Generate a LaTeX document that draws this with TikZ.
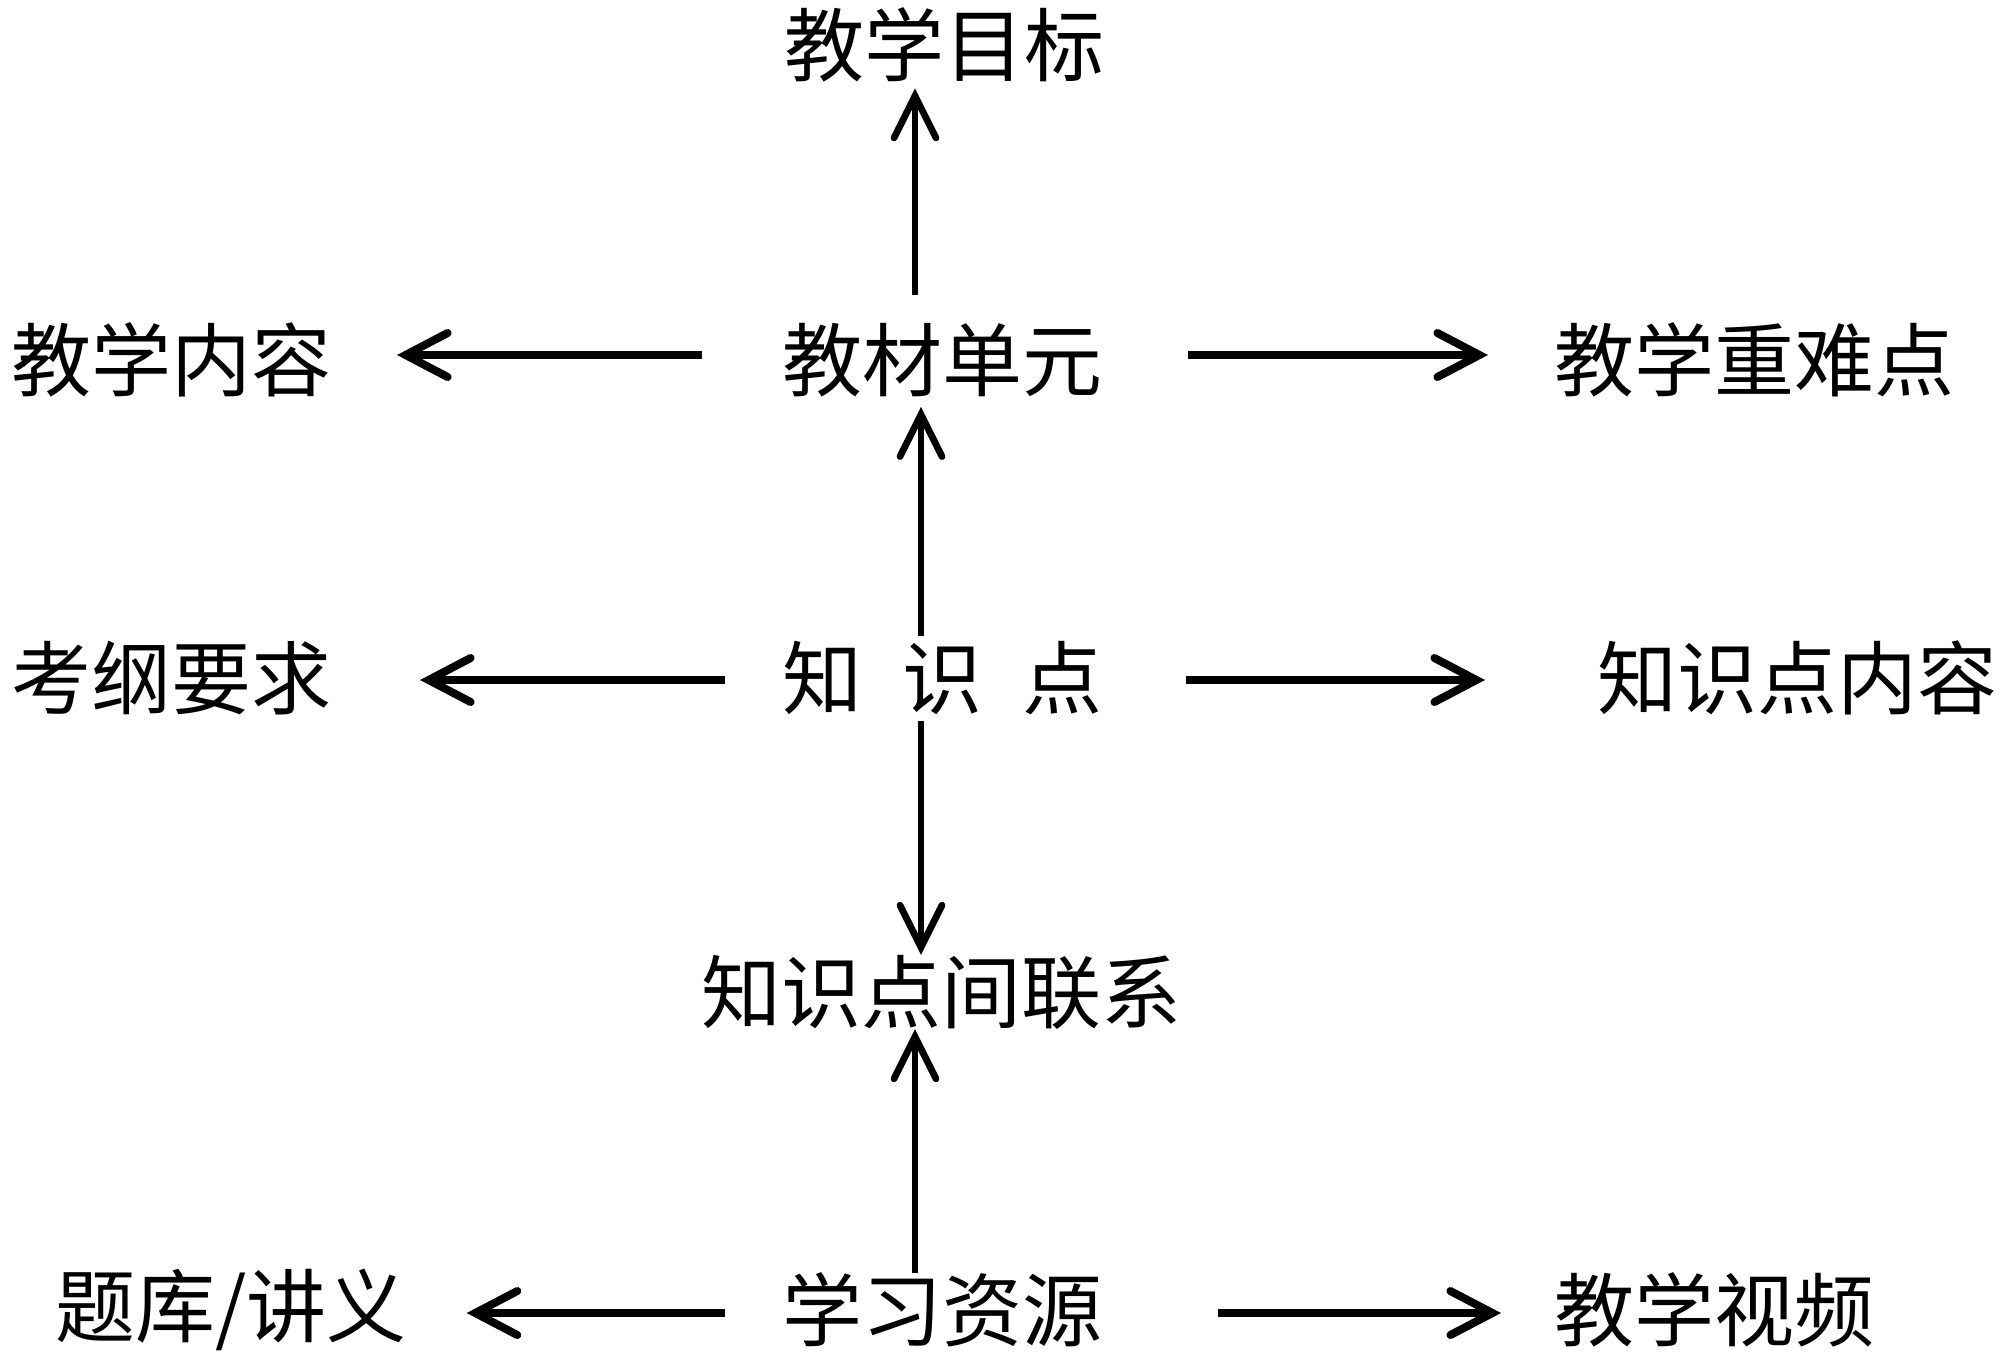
\documentclass[tikz,border=0pt]{standalone}
\usepackage{fontspec}
\newfontfamily\cjk{Noto Sans CJK SC}
\usetikzlibrary{arrows.meta}
\begin{document}
\begin{tikzpicture}[x=0.5pt,y=-0.5pt,
  lbl/.style={inner sep=0pt,outer sep=0pt,font=\cjk\fontsize{40pt}{48pt}\selectfont},
  harr/.style={draw=black,line width=4pt,-{Straight Barb[length=21pt,width=22pt,line cap=round]}},
  varr/.style={draw=black,line width=3.4pt,-{Straight Barb[length=21pt,width=21pt,line cap=round]}}]
\useasboundingbox[fill=white] (0,0) rectangle (2000,1355);
% nodes
\node[lbl] (goal) at (944,45) {教学目标};
\node[lbl] (jc) at (942,360) {教材单元};
\node[lbl] (nr) at (171,360) {教学内容};
\node[lbl] (zn) at (1754,360) {教学重难点};
\node[lbl] (kp) at (942,678) {知\hspace{0.5em}识\hspace{0.5em}点};
\node[lbl] (kg) at (171,678) {考纲要求};
\node[lbl] (kc) at (1797,678) {知识点内容};
\node[lbl] (lx) at (941,992) {知识点间联系};
\node[lbl] (zy) at (942,1310) {学习资源};
\node[lbl] (tk) at (231,1310) {题库/讲义};
\node[lbl] (sp) at (1714,1310) {教学视频};
% connectors
\draw[varr,shorten <=14pt,shorten >=3pt] ([xshift=-13.5pt]jc.north) -- ([xshift=-14.5pt]goal.south);
\draw[harr,shorten <=40pt,shorten >=33pt] ([yshift=2.5pt]jc.west) -- ([yshift=2.5pt]nr.east);
\draw[harr,shorten <=43pt,shorten >=33pt] ([yshift=2.5pt]jc.east) -- ([yshift=2.5pt]zn.west);
\draw[varr,shorten <=2.5pt,shorten >=5pt] ([xshift=-10.5pt]kp.north) -- ([xshift=-10.5pt]jc.south);
\draw[harr,shorten <=28.5pt,shorten >=44.5pt] ([yshift=-1pt]kp.west) -- ([yshift=-1pt]kg.east);
\draw[harr,shorten <=42pt,shorten >=56pt] ([yshift=-1pt]kp.east) -- ([yshift=-1pt]kc.west);
\draw[varr,shorten <=3pt,shorten >=0pt] ([xshift=-10.5pt]kp.south) -- ([xshift=-10pt]lx.north);
\draw[varr,shorten <=0pt,shorten >=0pt] ([xshift=-13.5pt]zy.north) -- ([xshift=-13pt]lx.south);
\draw[harr,shorten <=28.5pt,shorten >=30pt] ([yshift=-1.5pt]zy.west) -- ([yshift=-1.5pt]tk.east);
\draw[harr,shorten <=58pt,shorten >=26.5pt] ([yshift=-1.5pt]zy.east) -- ([yshift=-1.5pt]sp.west);
\end{tikzpicture}
\end{document}
